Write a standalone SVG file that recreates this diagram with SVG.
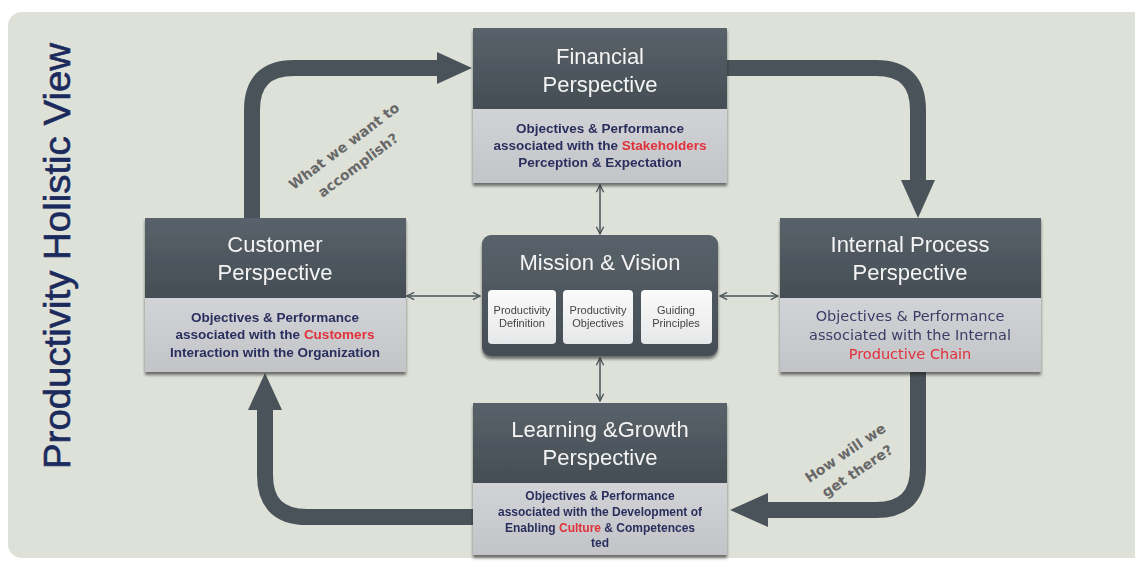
<svg xmlns="http://www.w3.org/2000/svg" width="1135" height="562" viewBox="0 0 1135 562">
<defs>
<linearGradient id="dark" x1="0" y1="0" x2="0" y2="1"><stop offset="0" stop-color="#59626a"/><stop offset="1" stop-color="#454d54"/></linearGradient>
<linearGradient id="light" x1="0" y1="0" x2="0" y2="1"><stop offset="0" stop-color="#d2d3d6"/><stop offset="1" stop-color="#c3c4c7"/></linearGradient>
<linearGradient id="sub" x1="0" y1="0" x2="0" y2="1"><stop offset="0" stop-color="#fbfbfb"/><stop offset="1" stop-color="#e6e7e8"/></linearGradient>
<filter id="sh" x="-5%" y="-5%" width="110%" height="115%"><feDropShadow dx="0" dy="3" stdDeviation="1.5" flood-color="#222" flood-opacity="0.6"/></filter>
<marker id="ah" viewBox="0 0 10 10" refX="9" refY="5" markerWidth="9" markerHeight="9" markerUnits="userSpaceOnUse" orient="auto-start-reverse"><path d="M1,1 L9,5 L1,9" fill="none" stroke="#4a5258" stroke-width="1.5"/></marker>
<style>
.t{font-family:"Liberation Sans",Arial,sans-serif;}
.title{font-family:"Liberation Sans",Arial,sans-serif;font-size:22px;fill:#f4f4f4;text-anchor:middle;}
.body{font-family:"Liberation Sans",Arial,sans-serif;font-size:13.5px;font-weight:bold;fill:#2b2f5e;text-anchor:middle;}
.body2{font-family:"DejaVu Sans","Liberation Sans",sans-serif;font-size:14.5px;fill:#3a3e66;text-anchor:middle;}
.red{fill:#e2303a;}
.big{fill:none;stroke:#4a5359;stroke-width:16;}
.head{fill:#4a5359;}
.thin{fill:none;stroke:#4a5258;stroke-width:1.5;}
.q{font-family:"DejaVu Sans","Liberation Sans",sans-serif;font-size:14px;font-weight:bold;fill:#686868;text-anchor:middle;}
.st{font-family:"Liberation Sans",Arial,sans-serif;font-size:11px;fill:#444;text-anchor:middle;}
</style>
</defs>
<rect x="0" y="0" width="1135" height="562" fill="#ffffff"/>
<rect x="8" y="12" width="1140" height="546" rx="14" fill="#dee1d8"/>

<g id="title">
<text class="t" transform="translate(70,469) rotate(-90)" font-size="36" fill="#1b2a5c" stroke="#1b2a5c" stroke-width="0.6" textLength="426" lengthAdjust="spacingAndGlyphs">Productivity  Holistic View</text>
</g>

<g id="connectors">
<path class="big" d="M252 218 V110 Q252 68 294 68 H440"/>
<polygon class="head" points="437,52 472,68 437,84"/>
<path class="big" d="M727 68 H876 Q918 68 918 110 V182"/>
<polygon class="head" points="901,180 918,218 935,180"/>
<path class="big" d="M918 372 V468 Q918 510 876 510 H766"/>
<polygon class="head" points="768,493 730,510 768,527"/>
<path class="big" d="M473 517 H307 Q265 517 265 475 V408"/>
<polygon class="head" points="248,410 265,373 282,410"/>
<path class="thin" d="M600 185 V234" marker-start="url(#ah)" marker-end="url(#ah)"/>
<path class="thin" d="M600 358 V401" marker-start="url(#ah)" marker-end="url(#ah)"/>
<path class="thin" d="M407 296 H480" marker-start="url(#ah)" marker-end="url(#ah)"/>
<path class="thin" d="M720 296 H778" marker-start="url(#ah)" marker-end="url(#ah)"/>
<text class="q" transform="translate(347,150) rotate(-37)">What we want to</text>
<text class="q" transform="translate(361,169) rotate(-37)">accomplish?</text>
<text class="q" transform="translate(848,457) rotate(-34)">How will we</text>
<text class="q" transform="translate(860,475) rotate(-34)">get there?</text>
</g>

<g id="financial" filter="url(#sh)">
<rect x="473" y="28" width="254" height="81" fill="url(#dark)"/>
<rect x="473" y="109" width="254" height="74" fill="url(#light)"/>
<text class="title" x="600" y="64">Financial</text>
<text class="title" x="600" y="92">Perspective</text>
<text class="body" x="600" y="133">Objectives &amp; Performance</text>
<text class="body" x="600" y="150">associated with the  <tspan class="red">Stakeholders</tspan></text>
<text class="body" x="600" y="167">Perception &amp; Expectation</text>
</g>

<g id="customer" filter="url(#sh)">
<rect x="145" y="218" width="261" height="80" fill="url(#dark)"/>
<rect x="145" y="298" width="261" height="74" fill="url(#light)"/>
<text class="title" x="275" y="252">Customer</text>
<text class="title" x="275" y="280">Perspective</text>
<text class="body" x="275" y="322">Objectives &amp; Performance</text>
<text class="body" x="275" y="339">associated with the <tspan class="red">Customers</tspan></text>
<text class="body" x="275" y="357">Interaction with the Organization</text>
</g>

<g id="internal" filter="url(#sh)">
<rect x="780" y="218" width="261" height="80" fill="url(#dark)"/>
<rect x="780" y="298" width="261" height="74" fill="url(#light)"/>
<text class="title" x="910" y="252">Internal Process</text>
<text class="title" x="910" y="280">Perspective</text>
<text class="body2" x="910" y="321">Objectives &amp; Performance</text>
<text class="body2" x="910" y="340">associated with the Internal</text>
<text class="body2 red" x="910" y="359">Productive Chain</text>
</g>

<g id="learning" filter="url(#sh)">
<rect x="473" y="403" width="254" height="80" fill="url(#dark)"/>
<rect x="473" y="483" width="254" height="72" fill="url(#light)"/>
<text class="title" x="600" y="437">Learning &amp;Growth</text>
<text class="title" x="600" y="465">Perspective</text>
<text class="body" x="600" y="500" style="font-size:12px">Objectives &amp; Performance</text>
<text class="body" x="600" y="516" style="font-size:12px">associated with the Development of</text>
<text class="body" x="600" y="532" style="font-size:12px">Enabling <tspan class="red">Culture</tspan> &amp; Competences</text>
<text class="body" x="600" y="547" style="font-size:12px">ted</text>
</g>

<g id="mission" filter="url(#sh)">
<rect x="482" y="235" width="236" height="121" rx="9" fill="url(#dark)"/>
<text class="title" x="600" y="270">Mission &amp; Vision</text>
<rect x="488" y="290" width="68" height="54" rx="4" fill="url(#sub)"/>
<rect x="563" y="290" width="70" height="54" rx="4" fill="url(#sub)"/>
<rect x="641" y="290" width="71" height="54" rx="4" fill="url(#sub)"/>
<text class="st" x="522" y="314">Productivity</text>
<text class="st" x="522" y="327">Definition</text>
<text class="st" x="598" y="314">Productivity</text>
<text class="st" x="598" y="327">Objectives</text>
<text class="st" x="676" y="314">Guiding</text>
<text class="st" x="676" y="327">Principles</text>
</g>
</svg>
